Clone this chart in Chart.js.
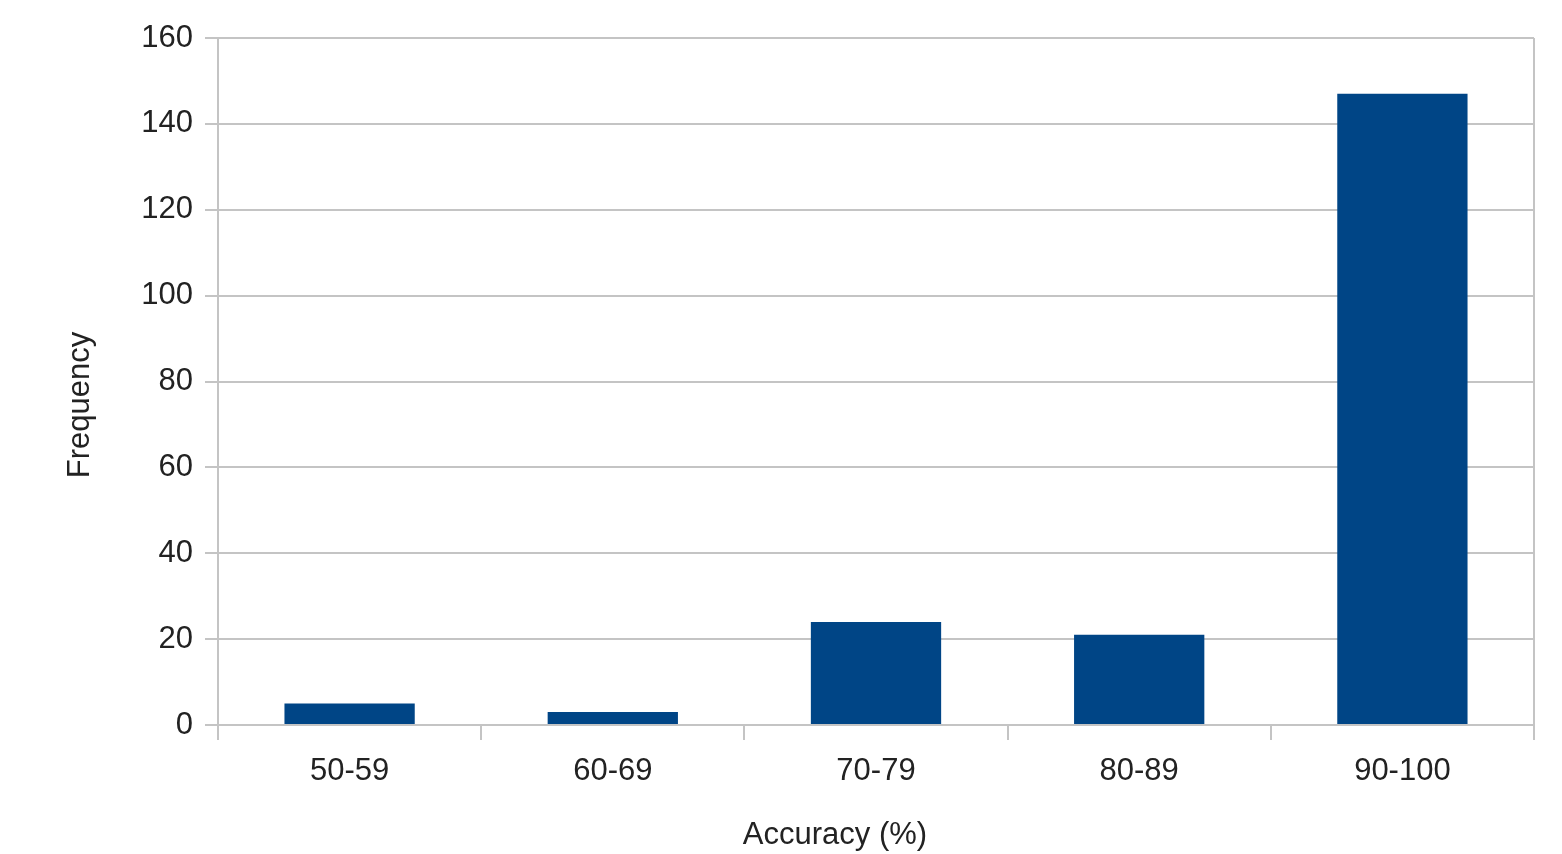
<!DOCTYPE html>
<html>
<head>
<meta charset="utf-8">
<script src="https://cdn.jsdelivr.net/npm/chart.js@4/dist/chart.umd.min.js"></script>
<style>
html,body{margin:0;padding:0;background:#fff;}
#wrap{width:1562px;height:854px;position:relative;}
</style>
</head>
<body>
<div id="wrap"><canvas id="c" width="1562" height="854"></canvas></div>
<script>
const categories = ["50-59", "60-69", "70-79", "80-89", "90-100"];
const frequency = [5, 3, 24, 21, 147];
const yTicks = [0, 20, 40, 60, 80, 100, 120, 140, 160];
const xTitle = 'Accuracy (%)';
const yTitle = 'Frequency';

const gridColor = '#c4c4c4';
const textColor = '#222222';
const fontFamily = "'Liberation Sans', Arial, sans-serif";
const font = {family: fontFamily, size: 31};

const decor = {
  id: 'decor',
  afterDraw(chart) {
    const {ctx, chartArea} = chart;
    ctx.save();
    ctx.strokeStyle = gridColor;
    ctx.lineWidth = 2;
    ctx.beginPath();
    ctx.moveTo(chartArea.right, chartArea.top);
    ctx.lineTo(chartArea.right, chartArea.bottom);
    ctx.stroke();
    ctx.fillStyle = textColor;
    ctx.font = '31px ' + fontFamily;
    ctx.textAlign = 'center';
    ctx.textBaseline = 'middle';
    ctx.fillText(xTitle, 835, 835);
    ctx.translate(80, 405);
    ctx.rotate(-Math.PI / 2);
    ctx.fillText(yTitle, 0, 0);
    ctx.restore();
  }
};

new Chart(document.getElementById('c'), {
  type: 'bar',
  data: {
    labels: categories,
    datasets: [{
      label: 'Frequency',
      data: frequency,
      backgroundColor: '#004586',
      borderWidth: 0,
      categoryPercentage: 1.0,
      barPercentage: 0.495
    }]
  },
  options: {
    responsive: false,
    animation: false,
    devicePixelRatio: 1,
    layout: {padding: {top: 38, right: 28, left: 0, bottom: 0}},
    plugins: {legend: {display: false}, tooltip: {enabled: false}, title: {display: false}},
    scales: {
      x: {
        offset: true,
        grid: {display: true, drawOnChartArea: false, drawTicks: true, tickLength: 15, color: gridColor, lineWidth: 2, offset: true},
        border: {display: true, color: gridColor, width: 2},
        ticks: {color: textColor, font: font, padding: 13, maxRotation: 0},
        afterFit(s) { s.height = 129; }
      },
      y: {
        min: 0, max: 160,
        afterBuildTicks(s) { s.ticks = yTicks.map(v => ({value: v})); },
        grid: {color: gridColor, lineWidth: 2, tickLength: 13},
        border: {display: true, color: gridColor, width: 2},
        ticks: {color: textColor, font: font, padding: 12},
        afterFit(s) { s.width = 218; }
      }
    }
  },
  plugins: [decor]
});
</script>
</body>
</html>
